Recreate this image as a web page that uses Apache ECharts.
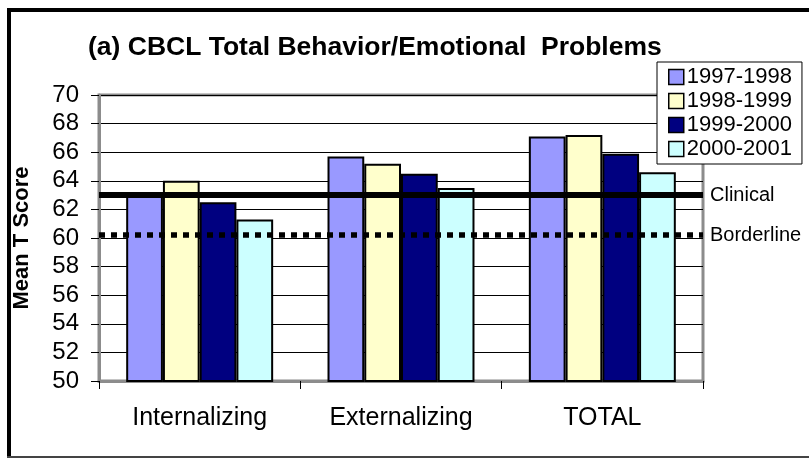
<!DOCTYPE html>
<html>
<head>
<meta charset="utf-8">
<script src="https://cdn.jsdelivr.net/npm/echarts@6/dist/echarts.min.js"></script>
<style>
  html, body { margin: 0; padding: 0; background: #fff; }
  #chart { width: 809px; height: 458px; }
</style>
</head>
<body>
<div id="chart"></div>
<script>
// categories and school years
const categories = ['Internalizing', 'Externalizing', 'TOTAL']
const years = ['1997-1998', '1998-1999', '1999-2000', '2000-2001']

// mean T scores per year, one value per category
const y1997 = [63.2, 65.7, 67.1]
const y1998 = [64.0, 65.2, 67.2]
const y1999 = [62.5, 64.5, 65.9]
const y2000 = [61.3, 63.5, 64.6]

// cut-off lines
const clinicalCut = 63
const borderlineCut = 60.2

const yTicks = [50, 52, 54, 56, 58, 60, 62, 64, 66, 68, 70]

const colors = ['#9999ff', '#ffffcc', '#000080', '#ccffff']
const font = 'Liberation Sans, Arial, sans-serif'

const chart = echarts.init(document.getElementById('chart'))

const seriesData = [y1997, y1998, y1999, y2000]
const series = years.map((name, i) => ({
  name: name,
  type: 'bar',
  data: seriesData[i],
  barGap: '0%',
  barCategoryGap: '27%',
  itemStyle: { color: colors[i], borderColor: '#000', borderWidth: 2 },
}))

// reference lines on top of the bars
series[3].markLine = {
  silent: true,
  symbol: ['none', 'none'],
  label: { position: 'end', color: '#000', fontSize: 20, fontFamily: font, distance: 7 },
  data: [
    { yAxis: clinicalCut, lineStyle: { color: '#000', type: 'solid', width: 6 }, label: { formatter: 'Clinical' } },
    { yAxis: borderlineCut, lineStyle: { color: '#000', type: [6, 6], width: 5.5 }, label: { formatter: 'Borderline' } },
  ],
}

const option = {
  animation: false,
  backgroundColor: '#fff',
  textStyle: { fontFamily: font },
  title: {
    text: '(a) CBCL Total Behavior/Emotional  Problems',
    left: 83,
    top: 29,
    textStyle: { fontSize: 26.5, fontWeight: 'bold', color: '#000', fontFamily: font },
  },
  legend: {
    orient: 'vertical',
    left: 657,
    top: 62,
    width: 150,
    padding: [4, 10, 4, 11],
    itemGap: 2,
    itemWidth: 15,
    itemHeight: 15,
    icon: 'rect',
    backgroundColor: '#fff',
    borderColor: '#000',
    borderWidth: 1,
    itemStyle: { borderColor: '#000', borderWidth: 1.5 },
    textStyle: { fontSize: 22, color: '#000', fontFamily: font, lineHeight: 22, padding: [0, 0, 0, -2] },
    data: years,
  },
  grid: {
    left: 99,
    right: 106,
    top: 95,
    bottom: 77,
    show: true,
    borderColor: '#8c8c8c',
    borderWidth: 3,
    backgroundColor: '#fff',
  },
  xAxis: {
    type: 'category',
    data: categories,
    axisLine: { show: true, lineStyle: { color: '#8c8c8c', width: 3 } },
    axisTick: { show: true, length: 8, lineStyle: { color: '#000', width: 1 } },
    axisLabel: { fontSize: 25, color: '#000', margin: 25, fontFamily: font },
  },
  yAxis: {
    type: 'value',
    min: yTicks[0],
    max: yTicks[yTicks.length - 1],
    interval: 2,
    name: 'Mean T Score',
    nameLocation: 'middle',
    nameRotate: 90,
    nameGap: 66,
    nameTextStyle: { fontSize: 22, fontWeight: 'bold', color: '#000', fontFamily: font },
    axisLine: { show: true, lineStyle: { color: '#8c8c8c', width: 3 } },
    axisTick: { show: true, length: 8, lineStyle: { color: '#000', width: 1 } },
    axisLabel: { fontSize: 24, color: '#000', margin: 20, fontFamily: font },
    splitLine: { show: true, lineStyle: { color: '#000', width: 1 } },
  },
  graphic: [
    // outer frame of the original figure
    { type: 'rect', shape: { x: 7, y: 8, width: 802, height: 4 }, style: { fill: '#000' }, silent: true },
    { type: 'rect', shape: { x: 7, y: 8, width: 4, height: 450 }, style: { fill: '#000' }, silent: true },
    { type: 'rect', shape: { x: 7, y: 456, width: 802, height: 2 }, style: { fill: '#444' }, silent: true },
  ],
  series: series,
}

chart.setOption(option)
</script>
</body>
</html>
